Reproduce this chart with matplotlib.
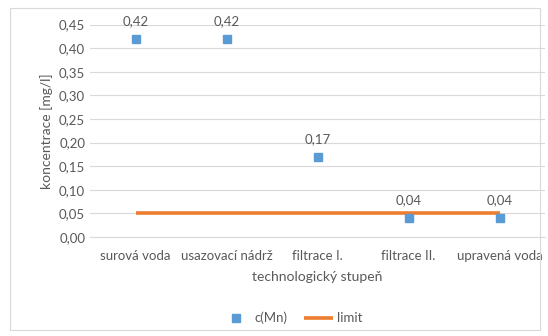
import matplotlib
matplotlib.use("Agg")
import matplotlib.pyplot as plt
from matplotlib.ticker import FuncFormatter, MultipleLocator
from matplotlib.patches import Rectangle

# data
stages = ["surová voda", "usazovací nádrž", "filtrace I.", "filtrace II.", "upravená voda"]
c_mn = [0.42, 0.42, 0.17, 0.04, 0.04]
limit = [0.05, 0.05, 0.05, 0.05, 0.05]

grey = "#595959"
blue = "#5B9BD5"
orange = "#ED7D31"

plt.rcParams["font.family"] = ["Lato", "DejaVu Sans"]

fig = plt.figure(figsize=(5.48, 3.36), dpi=100)
ax = fig.add_axes([90/548, 1 - 237/336, 455/548, (237 - 24.5)/336])

x = list(range(len(stages)))
ax.plot(x, limit, color=orange, lw=2.6, solid_capstyle="butt", label="limit", zorder=2)
ax.plot(x, c_mn, ls="none", marker="s", ms=5.8, color=blue, label="c(Mn)", zorder=3)

for xi, v in zip(x, c_mn):
    ax.annotate(("%.2f" % v).replace(".", ","), (xi, v), xytext=(0, 8.5),
                textcoords="offset points", ha="center", va="bottom",
                fontsize=9.5, color=grey)

ax.set_xlim(-0.5, len(stages) - 0.5)
ax.set_ylim(0, 0.45)
ax.yaxis.set_major_locator(MultipleLocator(0.05))
ax.yaxis.set_major_formatter(FuncFormatter(lambda v, p: ("%.2f" % v).replace(".", ",")))
ax.set_xticks(x)
ax.set_xticklabels(stages)
ax.grid(axis="y", color="#D9D9D9", lw=0.8)
ax.set_axisbelow(True)
for s in ["top", "right", "left"]:
    ax.spines[s].set_visible(False)
ax.spines["bottom"].set_color("#D9D9D9")
ax.tick_params(length=0, colors=grey, labelsize=9.5)
ax.tick_params(axis="x", pad=9)
ax.set_xlabel("technologický stupeň", color=grey, fontsize=10, labelpad=7)
ax.set_ylabel("koncentrace [mg/l]", color=grey, fontsize=10, labelpad=4)

h, l = ax.get_legend_handles_labels()
fig.legend(h[::-1], l[::-1], loc="center", bbox_to_anchor=(292/548, 1 - 318/336),
           ncol=2, frameon=False, fontsize=9.5, labelcolor=grey,
           handlelength=2.2, columnspacing=1.2, handletextpad=0.3)

fig.patches.append(Rectangle((10/548, 1 - 330/336), 530/548, 322/336,
                             transform=fig.transFigure, fill=False,
                             edgecolor="#D9D9D9", lw=0.8))

fig.savefig("out.png", dpi=100)
